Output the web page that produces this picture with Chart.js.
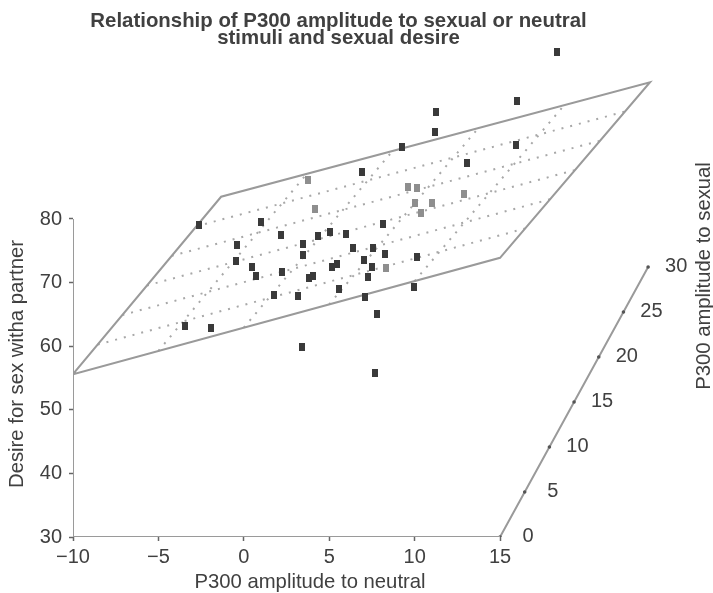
<!DOCTYPE html>
<html><head><meta charset="utf-8">
<script src="https://cdn.jsdelivr.net/npm/chart.js@4/dist/chart.umd.min.js"></script>
<style>html,body{margin:0;padding:0;background:#fff}canvas{display:block;filter:blur(0.6px)}</style>
</head><body><canvas id="c" width="713" height="593"></canvas>
<script>
const titleLines = ["Relationship of P300 amplitude to sexual or neutral", "stimuli and sexual desire"];
const neutralTicks = [-10, -5, 0, 5, 10, 15];
const desireTicks = [30, 40, 50, 60, 70, 80];
const sexualTicks = [0, 5, 10, 15, 20, 25, 30];
// Points read in front-plane axis units (oblique 3D view flattened onto the page)
const darkX = [6.92,18.34,16.0,11.25,11.2,9.26,15.94,13.07,8.15,8.27,10.14,-2.62,1.01,2.18,-0.4,-0.46,0.48,0.71,2.24,1.77,3.17,-3.44,-1.92,5.05,4.34,5.98,3.47,3.47,6.39,7.56,7.04,7.51,7.27,5.46,5.16,4.05,3.82,5.57,7.1,9.96,7.8,3.41,7.68];
const darkY = [87.4,106.3,98.6,96.8,93.7,91.3,91.6,88.8,79.2,74.5,74.0,79.1,79.5,77.5,75.9,73.4,72.5,71.0,71.7,68.1,67.9,63.2,62.9,78.0,77.3,77.6,76.1,74.3,75.4,75.4,73.6,72.5,70.9,72.9,72.5,71.0,70.7,69.0,67.7,69.3,65.1,59.9,55.8];
const grayX = [3.76,4.17,9.61,10.14,12.89,10.02,11.02,10.37,8.33];
const grayY = [86.1,81.6,85.0,84.9,83.9,82.5,82.5,80.9,72.3];
const planeX = [-10,-1.33,23.78,15,-10];
const planeY = [55.6,83.5,101.5,73.9,55.6];
const rowStartX = [-8.55,-7.11,-5.67,-4.22,-2.78];
const rowStartY = [60.25,64.9,69.55,74.2,78.85];
const rowEndX = [16.46,17.93,19.39,20.85,22.32];
const rowEndY = [78.5,83.1,87.7,92.3,96.9];
const colStartX = [-5,0,5,10];
const colStartY = [59.26,62.92,66.58,70.24];
const colEndX = [3.69,8.71,13.73,18.76];
const colEndY = [87.1,90.7,94.3,97.9];
const depthStepX = 0.289, depthStepY = 1.415;

const zip = (xs, ys) => xs.map((x, i) => ({x, y: ys[i]}));
function marker(color){
  const m = document.createElement('canvas'); m.width = 6; m.height = 8;
  const g = m.getContext('2d'); g.fillStyle = color; g.fillRect(0,0,6,8); return m;
}
const FONT = '"Liberation Sans", Arial, sans-serif';
const INK = '#404040', LINE = '#9a9a9a', DOT = '#a8a8a8';
const pts = (label, xs, ys, color) => ({type:'scatter', label, data:zip(xs,ys), pointStyle:marker(color), pointRadius:4, showLine:false});
const ln = (label, data, color, width, dash) => ({type:'line', label, data, borderColor:color, borderWidth:width, borderDash:dash||[], pointRadius:0, tension:0, fill:false});

const depthPoints = sexualTicks.map(s => ({x:15+s*depthStepX, y:30+s*depthStepY}));
const datasets = [
  pts('dark points', darkX, darkY, '#3a3a3a'),
  pts('light points', grayX, grayY, '#8e8e8e'),
  ln('neutral axis', [{x:-10,y:30},{x:15,y:30}], LINE, 2),
  ln('desire axis', [{x:-10,y:30},{x:-10,y:80}], LINE, 2),
  {...ln('sexual axis', depthPoints, LINE, 2), pointRadius:1.8, pointBackgroundColor:'#555', pointBorderWidth:0},
  ln('plane outline', zip(planeX, planeY), LINE, 2),
];
rowStartX.forEach((x,i)=>datasets.push(ln('plane row '+i, [{x,y:rowStartY[i]},{x:rowEndX[i],y:rowEndY[i]}], DOT, 2, [2,7])));
colStartX.forEach((x,i)=>datasets.push(ln('plane column '+i, [{x,y:colStartY[i]},{x:colEndX[i],y:colEndY[i]}], DOT, 2, [2,7])));

const textPlugin = {
  id:'extraText',
  afterDatasetsDraw(chart){
    const {ctx, scales:{x,y}} = chart;
    ctx.save();
    ctx.fillStyle = INK; ctx.textAlign='center'; ctx.textBaseline='middle';
    ctx.font = '20px '+FONT;
    sexualTicks.forEach((s,i)=>{
      ctx.fillText(String(s), x.getPixelForValue(depthPoints[i].x)+28, y.getPixelForValue(depthPoints[i].y)-1);
    });
    ctx.font = '20.3px '+FONT;
    ctx.fillText('P300 amplitude to neutral', 310, 582);
    const rot=(t,px,py)=>{ctx.save();ctx.translate(px,py);ctx.rotate(-Math.PI/2);ctx.fillText(t,0,0);ctx.restore();};
    rot('Desire for sex witha partner', 17.5, 364);
    rot('P300 amplitude to sexual', 704, 276);
    ctx.restore();
  }
};
const axis = (min,max,values,extra) => Object.assign({
  type:'linear', min, max,
  afterBuildTicks(s){ s.ticks = values.map(value=>({value})); },
  border:{display:false},
  grid:{display:true, drawOnChartArea:false, tickLength:4, tickColor:'#666', tickWidth:1.5},
}, extra);
new Chart(document.getElementById('c'), {
  type:'scatter',
  data:{datasets},
  options:{
    responsive:false, animation:false,
    layout:{padding:{left:0,right:36,top:0,bottom:0}},
    plugins:{
      legend:{display:false}, tooltip:{enabled:false},
      title:{display:true, text:titleLines, color:INK, align:'center',
        font:{family:FONT, size:20.4, weight:'bold', lineHeight:0.84}, padding:{top:13,bottom:0}}
    },
    scales:{
      x: axis(-10, 25.36, neutralTicks, {
        afterFit(s){ s.height = 56; },
        ticks:{autoSkip:false, maxRotation:0, color:INK, padding:4, font:{family:FONT,size:20},
          callback:v=>String(v).replace('-','\u2212')}
      }),
      y: axis(30, 107.0, desireTicks, {
        afterFit(s){ s.width = 73; },
        ticks:{autoSkip:false, color:INK, padding:7, font:{family:FONT,size:20}}
      })
    }
  },
  plugins:[textPlugin]
});
</script></body></html>
